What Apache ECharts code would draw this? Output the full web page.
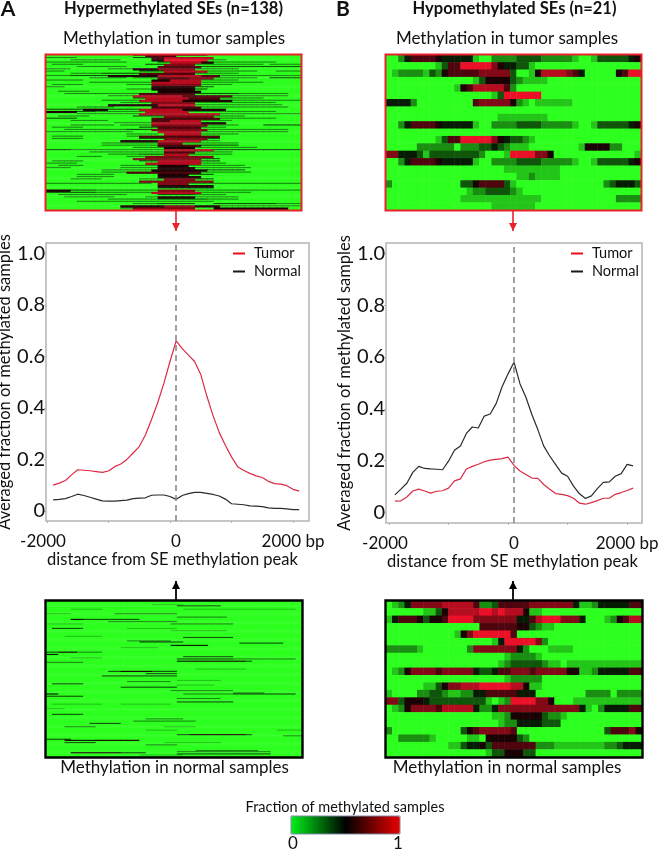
<!DOCTYPE html>
<html>
<head>
<meta charset="utf-8">
<style>html,body{margin:0;padding:0;background:#fff}#c{width:660px;height:850px}</style>
<script src="https://cdn.jsdelivr.net/npm/echarts@6/dist/echarts.min.js"></script>
</head>
<body>
<div id="c"></div>
<script>
var bpBins = [-1900,-1800,-1700,-1600,-1500,-1400,-1300,-1200,-1100,-1000,-900,-800,-700,-600,-500,-400,-300,-200,-100,0,100,200,300,400,500,600,700,800,900,1000,1100,1200,1300,1400,1500,1600,1700,1800,1900,2000,2100];
var hyperTumorLine = [.10,.108,.118,.14,.16,.158,.156,.153,.15,.155,.172,.182,.20,.225,.25,.295,.355,.42,.495,.58,.66,.63,.605,.58,.53,.445,.37,.305,.255,.21,.172,.157,.146,.136,.13,.115,.106,.104,.098,.084,.077];
var hyperNormalLine = [.043,.045,.048,.056,.065,.060,.053,.046,.039,.038,.038,.040,.042,.048,.050,.051,.061,.062,.062,.056,.045,.060,.067,.072,.072,.068,.064,.058,.046,.028,.026,.024,.020,.019,.017,.012,.010,.010,.008,.005,.005];
var hypoTumorLine = [.044,.045,.06,.083,.09,.083,.075,.082,.084,.094,.122,.13,.168,.178,.186,.196,.202,.205,.208,.214,.182,.16,.147,.133,.132,.108,.09,.073,.07,.065,.055,.036,.032,.038,.046,.055,.055,.07,.077,.085,.094];
var hypoNormalLine = [.068,.09,.113,.155,.178,.17,.168,.167,.165,.198,.24,.257,.305,.33,.326,.372,.38,.42,.485,.535,.58,.497,.445,.378,.32,.256,.218,.185,.152,.14,.102,.072,.054,.064,.092,.116,.118,.14,.15,.186,.18];
var xTicks = [-2000,-1000,0,1000,2000];
var xLabels = [-2000,0,2000];
var yTicks = [0,0.2,0.4,0.6,0.8,1.0];

// Heat levels 0-9 (level/9 = fraction) per column.
var hypoTumorHeat = [
"00246666544444100222233332222210013333345",
"00000000136699999754433100000000000000000",
"01222213256666677777300158888764000005699",
"00000000000000135555321111000000000000000",
"00000000000156888886200000000000000000000",
"00000000000000000139999990000000000000000",
"44442000000000677777521011111100000000000",
"00000000000000000000000000000000000000000",
"00000000000000000011111111000000000000000",
"00246666544444100222233332222210013333345",
"00000000000000000000000000000000000000000",
"00000000136699999754332100000000000000000",
"00000222222022233432111000000001555522000",
"77444313333333320001999977500000000000001",
"00246666544444100222233332222210013333345",
"00000000000000000001111111110000000000000",
"00000000000000000000011211110000000000000",
"20000000000033566663100000000000000234443",
"00000000000001223333210000000000000000000",
"00000000000011111111111110000000000002222",
"00000000000000000111111100000000000000000"
];
var hypoNormalHeat = [
"01247777788888622366666777777741124444466",
"00000011358888899898885110000000000000000",
"14666535569999777777744689997774000125688",
"00000000000000066666655321100000000000000",
"00000000000157999999600000000000000000000",
"00000000000000000149999972000000000000000",
"22222100000002777777742000111100000000000",
"00000000000000000001222210000000000000000",
"00000000000000000012333332110111111111111",
"01257777677777433466777677777551124444466",
"00000000000000000001222220000000000000000",
"00000011357788899999885110000000000000000",
"10000223321122446666644400000000222202222",
"77355543333333331012999977500011111111111",
"01257777688888422477777777777774102444466",
"00000000000000000112555553221000000000000",
"00000000000000000012244443330000000000000",
"20000000000035677777600000000000000366675",
"00222221000001105555532000000000000000000",
"00000000001134453666666622211111111223444",
"00000000000000001335553300000000000000000"
];
// Each entry is one band of two sample rows: "firstCol-lastCol:level" runs, everything else level 0.
// Faint side streaks (level below 5) are one row thick; stronger runs fill both rows of the band.
var hyperTumorRuns = [
"14-16:3 16-21:6 21-25:3","0-4:2 14-17:3 17-19:6 19-26:8","4-11:2 17-19:5 19-26:9 26-28:2","0-4:2 5-12:2 18-20:3 20-25:8 25-27:5 27-36:2",
"1-5:2 16-19:3 19-24:7 24-34:2 36-40:2","5-12:2 18-24:6 25-40:3","0-3:2 10-14:2 14-18:5 18-24:7 24-30:2","0-2:2 15-19:3 19-26:8 26-33:2 37-40:2",
"4-9:2 9-15:3 15-24:6 24-30:2","0-3:2 4-10:3 10-18:5 18-25:8 25-28:6 28-40:2","7-12:2 14-18:2 18-23:6 23-27:7 27-33:2 36-40:3","0-5:2 17-20:5 20-25:8 25-30:2",
"7-17:2 17-25:8 25-34:2","1-5:2 13-17:2 17-25:7 25-29:2","0-2:2 17-24:5 24-26:3","13-17:2 17-24:5 24-25:3",
"2-6:2 18-24:5","3-14:2 15-24:6 24-31:3 31-38:2","10-14:2 14-22:8 22-30:6 30-38:2","14-16:3 16-23:8 23-28:6 28-34:2",
"9-15:2 15-22:8 22-30:5 30-40:2","12-17:2 17-24:7 24-36:2","10-18:5 18-24:8 24-37:2","5-10:2 17-25:6 25-38:2",
"0-6:3 6-10:5 10-15:3 15-22:8 22-28:5","0-5:5 5-8:3 8-16:2 16-23:8 23-31:2 31-36:2","5-15:2 15-28:8 28-40:2","2-6:2 14-19:3 19-27:7 27-31:2",
"0-4:3 17-28:6 28-36:2","4-9:2 17-20:6 20-25:8 25-29:2","11-17:2 17-25:8 25-28:5","4-10:2 12-17:2 17-26:7 26-30:2 35-40:3",
"1-5:2 15-18:3 18-25:6 25-28:2","3-13:2 13-17:3 17-26:7 26-38:2","0-8:2 9-13:2 18-25:8 25-38:2","13-17:2 19-25:8 25-30:2",
"1-5:2 13-15:2 15-27:6","1-5:2 15-19:3 19-26:7 26-27:3","12-18:5 18-25:8 25-27:2","9-12:2 12-18:2 18-22:7 22-30:2",
"9-18:2 18-25:6 25-30:3","14-18:2 19-24:5 24-29:2 30-33:2","0-4:3 4-19:2 19-27:8 27-40:3","7-14:2 14-19:2 19-24:6 24-29:2",
"10-15:2 15-19:3 19-23:8 23-29:2","5-8:2 13-16:2 16-26:7","14-25:7 25-27:3","1-5:2 15-18:3 18-25:8 25-27:3",
"0-4:2 16-25:8 25-28:2","2-5:2 12-18:2 18-23:5 23-31:2","0-3:2 12-18:2 18-24:5 24-32:2","9-17:2 17-25:5 26-31:3",
"9-13:2 13-25:6 25-32:2","5-10:2 18-23:5 23-26:3","5-10:2 18-24:5","4-8:2 15-19:2 19-24:7 24-26:3",
"15-26:7","0-16:2 18-23:7 23-40:2","18-26:5","18-26:4",
"0-4:5 4-8:3 8-17:2 18-24:7 24-40:2","0-8:3 8-16:2 17-25:8 25-32:2","2-12:2 18-24:3 24-28:2","3-10:2 16-18:2 18-24:5 24-30:2",
"10-17:2 18-26:3 26-30:2","5-15:2 16-26:2","14-18:2 18-23:3 27-39:3 37-40:2","12-19:5 19-24:7 24-28:5 28-40:2",
"12-14:2 14-23:7 27-38:5"
];
// [row of 138, firstCol, lastCol, level]
var hyperNormalRuns = [
[3,17,21,1],[4,21,27,3],[7,4,8,1],[7,22,29,1],[7,30,39,1],[11,0,3,1],[11,11,20,2],[14,21,28,2],[16,4,6,4],[16,6,12,3],[16,12,14,3],
[18,10,20,2],[20,0,5,1],[20,20,29,2],[24,1,5,3],[24,13,20,1],[26,20,28,1],[31,3,8,1],[32,22,29,3],[35,13,19,2],[36,15,21,3],[37,31,37,3],
[39,20,25,4],[41,12,17,1],[45,0,5,3],[45,2,4,5],[45,5,8,2],[47,0,1,4],[49,22,29,3],[50,4,8,1],[51,21,29,3],[51,30,39,2],[53,21,22,4],[53,23,31,5],[53,32,32,3],
[54,0,5,2],[60,24,31,1],[62,10,20,3],[62,12,16,5],[64,16,20,3],[66,9,20,3],[70,21,27,1],[71,13,19,2],[73,1,5,3],[74,21,26,1],
[76,12,20,3],[79,20,29,2],[81,30,34,2],[82,0,1,4],[82,22,29,2],[82,30,39,3],[84,0,5,3],[86,21,27,2],[89,21,29,3],[91,1,8,1],[91,12,19,1],
[95,0,2,1],[100,1,5,3],[104,16,21,2],[106,14,23,2],[108,7,11,3],[111,3,7,2],[111,19,23,1],[114,16,20,1],[114,37,40,1],[118,21,22,3],[118,23,31,5],[118,32,32,3],
[119,38,40,2],[122,0,3,3],[123,3,5,5],[123,5,8,4],[123,8,14,5],[125,3,7,3],[127,16,20,2],[125,19,27,1],[132,24,33,2],[133,21,35,2],[134,4,12,5],[134,12,15,3],[135,21,35,3],[136,15,21,1]
];
var panelTitles = ["Hypermethylated SEs (n=138)","Hypomethylated SEs (n=21)"];
var colorStops = ['#2dff1f','#000000','#ea1028'];

function fromStrings(rows){var d=[];rows.forEach(function(s,r){for(var c=0;c<41;c++){d.push([c,r,(+s.charAt(c)||0)/9]);}});return d;}
function fromBands(rows){var d=[];rows.forEach(function(s,r){var a=new Array(41).fill(0);
  s.split(' ').forEach(function(t){var m=t.split(':'),e=m[0].split('-');for(var c=+e[0];c<=+e[1];c++)a[c]=+m[1];});
  a.forEach(function(v,c){d.push([c,2*r,v/9]);d.push([c,2*r+1,v>=5?v/9:0]);});});return d;}
function fromSparse(n,runs){var a=[];for(var r=0;r<n;r++)a.push(new Array(41).fill(0));
  runs.forEach(function(t){for(var c=t[1];c<=t[2]&&c<41;c++)a[t[0]][c]=t[3];});
  var d=[];a.forEach(function(row,r){row.forEach(function(v,c){d.push([c,r,v/9]);});});return d;}
function seq(n){var a=[];for(var i=0;i<n;i++)a.push(i);return a;}

var FONT='Lato';
var heatBoxes=[
 {left:46,top:55,width:255,height:155,color:'#e8232b',data:fromBands(hyperTumorRuns),rows:hyperTumorRuns.length*2},
 {left:386,top:55,width:255,height:155,color:'#e8232b',data:fromStrings(hypoTumorHeat),rows:21},
 {left:46,top:601,width:256,height:156,color:'#000',data:fromSparse(138,hyperNormalRuns),rows:138},
 {left:386,top:601,width:256,height:156,color:'#000',data:fromStrings(hypoNormalHeat),rows:21}
];
var grids=[],xA=[],yA=[],series=[];
heatBoxes.forEach(function(b,i){
 grids.push({left:b.left,top:b.top,width:b.width,height:b.height,show:false,outerBoundsMode:'none'});
 xA.push({type:'category',gridIndex:i,data:bpBins,show:false});
 yA.push({type:'category',gridIndex:i,data:seq(b.rows),inverse:true,show:false});
 series.push({type:'heatmap',xAxisIndex:i,yAxisIndex:i,data:b.data,silent:true,progressive:0,itemStyle:{borderWidth:0}});
});
var lineBoxes=[
 {left:46,top:243,width:263,height:278,xMin:-2016,xMax:2260,yMin:-0.039,yMax:1.04,tumor:hyperTumorLine,normal:hyperNormalLine,nameGap:27,namePad:[0,10,0,0],xNameGap:27},
 {left:386,top:243,width:256,height:280,xMin:-2050,xMax:2250,yMin:-0.0405,yMax:1.04,tumor:hypoTumorLine,normal:hypoNormalLine,nameGap:29,namePad:[0,3,0,0],xNameGap:25}
];
lineBoxes.forEach(function(b,k){
 var i=4+k;
 grids.push({left:b.left,top:b.top,width:b.width,height:b.height,show:true,borderColor:'#b4b4b4',borderWidth:1.5,backgroundColor:'#fff',outerBoundsMode:'none'});
 xA.push({type:'value',gridIndex:i,min:b.xMin,max:b.xMax,splitLine:{show:false},axisLine:{show:false,onZero:false},
   axisTick:{show:true,length:2,customValues:xTicks,lineStyle:{color:'#b4b4b4'}},
   axisLabel:{customValues:xLabels,color:'#111',fontFamily:FONT,fontSize:17,margin:12,hideOverlap:false,
     formatter:function(v){return v===-2000?'{l|-2000}':v===0?'{z|0}':'{r|2000 bp}';},
     rich:{l:{fontFamily:FONT,fontSize:17,color:'#111',padding:[0,8,0,0]},z:{fontFamily:FONT,fontSize:17,color:'#111',padding:[0,0,0,12]},r:{fontFamily:FONT,fontSize:17,color:'#111'}}},
   name:'distance from SE methylation peak',nameLocation:'middle',nameGap:b.xNameGap,
   nameTextStyle:{color:'#111',fontFamily:FONT,fontSize:16.5,padding:b.namePad}});
 yA.push({type:'value',gridIndex:i,min:b.yMin,max:b.yMax,splitLine:{show:false},axisLine:{show:false,onZero:false},
   axisTick:{show:true,length:2,customValues:yTicks,lineStyle:{color:'#b4b4b4'}},
   axisLabel:{customValues:yTicks,color:'#111',fontFamily:FONT,fontSize:20,margin:1,formatter:function(v){return v===0?'0':v.toFixed(1);}},
   name:'Averaged fraction of methylated samples',nameLocation:'middle',nameGap:b.nameGap,
   nameTextStyle:{color:'#111',fontFamily:FONT,fontSize:16.5}});
 function pts(arr){return arr.map(function(v,j){return [bpBins[j],v];});}
 series.push({name:'Tumor',type:'line',xAxisIndex:i,yAxisIndex:i,data:pts(b.tumor),showSymbol:false,silent:true,lineStyle:{color:'#dc2a45',width:1.2},itemStyle:{color:'#e8101e'},
   markLine:{silent:true,symbol:'none',label:{show:false},animation:false,lineStyle:{type:[6,4],color:'#8a8a8a',width:1.6},data:[{xAxis:100}]}});
 series.push({name:'Normal',type:'line',xAxisIndex:i,yAxisIndex:i,data:pts(b.normal),showSymbol:false,silent:true,lineStyle:{color:'#2a2a2a',width:1.2},itemStyle:{color:'#1a1a1a'}});
});
function leg(left,top){return {orient:'vertical',left:left,top:top,icon:'rect',itemWidth:12,itemHeight:2,itemGap:3,padding:0,selectedMode:false,
  data:['Tumor','Normal'],textStyle:{color:'#111',fontFamily:FONT,fontSize:14.5,padding:[0,0,0,4]}};}
function ttl(text,x,y,size,weight){return {text:text,left:x,top:y,textAlign:'center',textVerticalAlign:'middle',padding:0,
  textStyle:{color:'#111',fontFamily:FONT,fontSize:size,fontWeight:weight||'normal'}};}
function arrow(x,y0,y1,headY,color,w){return [
  {type:'line',silent:true,shape:{x1:x,y1:y0,x2:x,y2:y1},style:{stroke:color,lineWidth:w}},
  {type:'polygon',silent:true,shape:{points:[[x-4,headY],[x+4,headY],[x,y1]]},style:{fill:color}}];}
var graphics=[].concat(
  arrow(176,211,231,223,'#e8232b',1.6),
  arrow(513,211,231,223,'#e8232b',1.6),
  arrow(176,600,581,589,'#000',1.8),
  arrow(513,600,581,589,'#000',1.8)
);
heatBoxes.forEach(function(b,i){
 graphics.push({type:'rect',silent:true,z:50,shape:{x:b.left-0.5,y:b.top-0.5,width:b.width+1,height:b.height+1},
   style:{fill:'none',stroke:b.color,lineWidth:i<2?2:2.4}});
});
graphics.push({type:'rect',silent:true,z:50,shape:{x:291,y:816,width:109,height:18},style:{fill:'none',stroke:'#7f8aa3',lineWidth:1}});

var chart=echarts.init(document.getElementById('c'),null,{renderer:'canvas'});
chart.setOption({
 animation:false,backgroundColor:'#fff',
 title:[
  ttl('A',8,9,21,'bold'),ttl('B',343,9,21,'bold'),
  ttl(panelTitles[0],173.5,9,16.5,'bold'),ttl(panelTitles[1],514.5,9,16.5,'bold'),
  ttl('Methylation in tumor samples',174,39,17),ttl('Methylation in tumor samples',507,39,17),
  ttl('Methylation in normal samples',174.5,768,17),ttl('Methylation in normal samples',507,768,17),
  ttl('Fraction of methylated samples',345,807,14.5),
  ttl('0',293,844,17),ttl('1',398,844,17)
 ],
 grid:grids,xAxis:xA,yAxis:yA,series:series,
 legend:[leg(233,246),leg(571,246)],
 visualMap:[
  {type:'continuous',min:0,max:1,seriesIndex:[0,1,2,3],show:false,inRange:{color:colorStops}},
  {type:'continuous',min:0,max:1,seriesIndex:[],show:true,orient:'horizontal',left:291,top:816,itemWidth:18,itemHeight:109,padding:0,calculable:false,realtime:false,hoverLink:false,
   inRange:{color:['#00f018','#000000','#e80000']},text:null,showLabel:false}
 ],
 graphic:graphics
});
</script>
</body>
</html>
